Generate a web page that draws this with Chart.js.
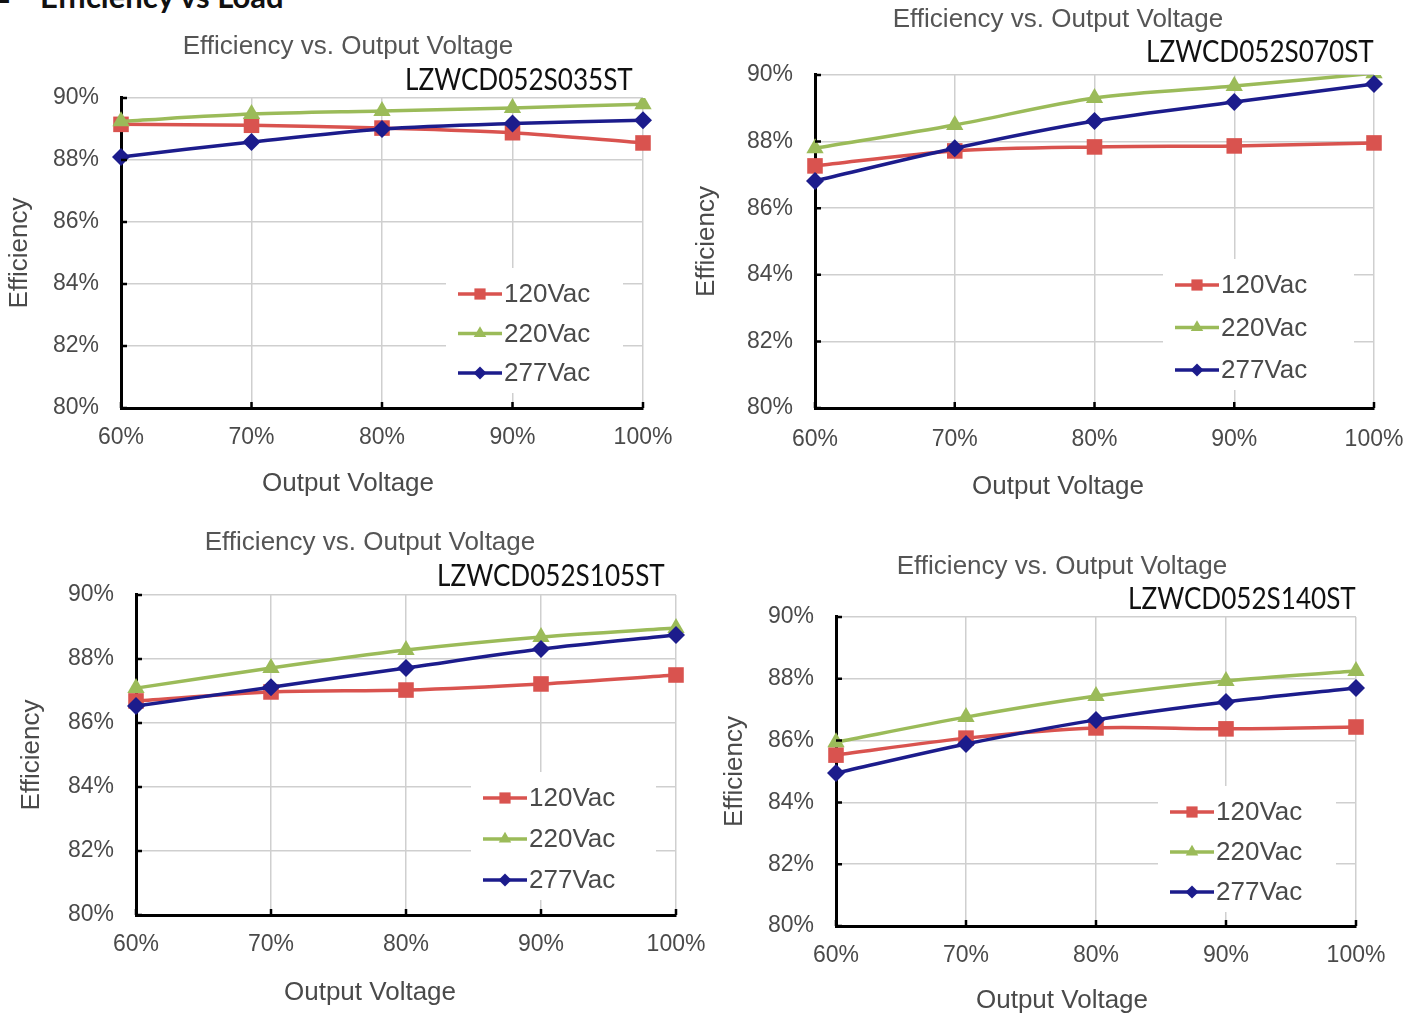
<!DOCTYPE html>
<html>
<head>
<meta charset="utf-8">
<script src="https://cdn.jsdelivr.net/npm/chart.js@4.4.1/dist/chart.umd.min.js"></script>
<style>
  html, body { margin: 0; padding: 0; background: #fff; }
  body { position: relative; width: 1424px; height: 1015px; overflow: hidden; }
  .panel { position: absolute; }
  .model {
    position: absolute; font-family: Lato, "Open Sans", sans-serif; font-size: 30px;
    color: #111; white-space: nowrap; transform: scaleX(0.87); transform-origin: right center;
    line-height: 30px;
  }
  .head {
    position: absolute; left: 0; top: -19px; font-family: Lato, "Liberation Sans", sans-serif;
    font-weight: bold; font-size: 31px; line-height: 30px; color: #111; white-space: nowrap;
  }
  .head .sq { position: absolute; left: -2px; top: 0; font-size: 20px; }
  .head .tx { position: absolute; left: 40px; top: 0; }
</style>
</head>
<body>
<div class="head"><span class="sq">■</span><span class="tx">Efficiency vs Load</span></div>

<script>
// values (efficiency in %)
const xLabels = ['60%', '70%', '80%', '90%', '100%'];
const seriesNames = ['120Vac', '220Vac', '277Vac'];
const models = ['LZWCD052S035ST', 'LZWCD052S070ST', 'LZWCD052S105ST', 'LZWCD052S140ST'];

const eff035_120 = [89.15, 89.12, 89.03, 88.88, 88.55];
const eff035_220 = [89.25, 89.48, 89.58, 89.68, 89.80];
const eff035_277 = [88.10, 88.58, 89.00, 89.18, 89.28];

const eff070_120 = [87.27, 87.72, 87.84, 87.87, 87.96];
const eff070_220 = [87.80, 88.50, 89.31, 89.67, 90.05];
const eff070_277 = [86.82, 87.80, 88.62, 89.19, 89.73];

const eff105_120 = [86.69, 86.97, 87.03, 87.22, 87.50];
const eff105_220 = [87.09, 87.72, 88.28, 88.69, 88.97];
const eff105_277 = [86.53, 87.12, 87.72, 88.31, 88.75];

const eff140_120 = [85.53, 86.08, 86.41, 86.38, 86.44];
const eff140_220 = [85.95, 86.76, 87.44, 87.93, 88.25];
const eff140_277 = [84.95, 85.89, 86.67, 87.25, 87.70];

const panelData = [
  [eff035_120, eff035_220, eff035_277],
  [eff070_120, eff070_220, eff070_277],
  [eff105_120, eff105_220, eff105_277],
  [eff140_120, eff140_220, eff140_277]
];

// look
const colors = ['#d9534f', '#9bbb59', '#1c1c8c'];
const pointStyles = ['rect', 'triangle', 'rectRot'];
const pointRadius = [11, 10, 9];
const TXT = '#4a4a4a';
const FONT = '"Liberation Sans", Arial, sans-serif';

// page placement of each panel: canvas box + wanted plot area, all page px
const layouts = [
  { L: 0,   T: 20,  W: 696, H: 490, area: [121, 643, 98, 408],  titleY: 47,  xTitleY: 484, yTitleX: 20,  tickY: 438,
    model: { right: 633, y: 78 },  legend: { dx: 185, first: 114, gap: 39.5 } },
  { L: 690, T: 0,   W: 736, H: 513, area: [815, 1374, 75, 408], titleY: 20,  xTitleY: 487, yTitleX: 707, tickY: 440,
    model: { right: 1374, y: 50 }, legend: { dx: 199, first: 123, gap: 42.5 } },
  { L: 10,  T: 515, W: 720, H: 500, area: [136, 676, 595, 915], titleY: 543, xTitleY: 993, yTitleX: 32,  tickY: 945,
    model: { right: 665, y: 574 }, legend: { dx: 193, first: 117, gap: 41 } },
  { L: 710, T: 540, W: 704, H: 477, area: [836, 1356, 617, 926], titleY: 567, xTitleY: 1001, yTitleX: 735, tickY: 956,
    model: { right: 1356, y: 597 }, legend: { dx: 186, first: 114, gap: 40 } }
];

// legend box drawn inside the plot, lower right
const boxLegend = {
  id: 'boxLegend',
  afterDatasetsDraw(chart, args, opts) {
    const { ctx, chartArea: a } = chart;
    const x0 = a.right - opts.dx;
    const ds = chart.data.datasets;
    const rows = ds.map((d, i) => a.bottom - opts.first + i * opts.gap);
    ctx.save();
    ctx.fillStyle = '#fff';
    ctx.fillRect(x0 - 12, rows[0] - 26, a.right - 20 - (x0 - 12), rows[rows.length - 1] + 20 - (rows[0] - 26));
    ds.forEach((d, i) => {
      const y = rows[i];
      ctx.strokeStyle = d.borderColor;
      ctx.lineWidth = 3.5;
      ctx.beginPath();
      ctx.moveTo(x0, y);
      ctx.lineTo(x0 + 44, y);
      ctx.stroke();
      ctx.fillStyle = d.pointBackgroundColor;
      ctx.strokeStyle = d.pointBorderColor;
      Chart.helpers.drawPoint(ctx, { pointStyle: d.pointStyle, radius: d.pointRadius * 0.72, rotation: 0, borderWidth: 0 }, x0 + 22, y);
      ctx.fillStyle = TXT;
      ctx.font = '26px ' + FONT;
      ctx.textBaseline = 'middle';
      ctx.textAlign = 'left';
      ctx.fillText(d.label, x0 + 46, y + 1);
    });
    ctx.restore();
  }
};

// small black inner tick marks on the two black axes
const innerTicks = {
  id: 'innerTicks',
  afterDatasetsDraw(chart) {
    const { ctx, chartArea: a, scales } = chart;
    ctx.save();
    ctx.strokeStyle = '#000';
    ctx.lineWidth = 2.5;
    ctx.beginPath();
    scales.y.ticks.forEach((t, i) => {
      const y = scales.y.getPixelForTick(i);
      ctx.moveTo(a.left, y); ctx.lineTo(a.left + 6, y);
    });
    scales.x.ticks.forEach((t, i) => {
      const x = scales.x.getPixelForTick(i);
      ctx.moveTo(x, a.bottom); ctx.lineTo(x, a.bottom - 6);
    });
    ctx.stroke();
    ctx.restore();
  }
};

function buildPanel(idx) {
  const lay = layouts[idx];
  const [al, ar, at, ab] = lay.area;

  const div = document.createElement('div');
  div.className = 'panel';
  div.style.left = lay.L + 'px';
  div.style.top = lay.T + 'px';
  const cv = document.createElement('canvas');
  cv.width = lay.W; cv.height = lay.H;
  cv.style.width = lay.W + 'px'; cv.style.height = lay.H + 'px';
  div.appendChild(cv);
  document.body.appendChild(div);

  const m = document.createElement('div');
  m.className = 'model';
  m.textContent = models[idx];
  m.style.right = (1424 - lay.model.right) + 'px';
  m.style.top = (lay.model.y - 15) + 'px';
  document.body.appendChild(m);

  // paddings so that the plot area lands where the original one is
  const titleLH = 26 * 1.2, tickLH = 23 * 1.2, yTitleLH = 26 * 1.2;
  const titleTop = lay.titleY - lay.T - titleLH / 2;
  const titleBottom = at - lay.T - titleTop - titleLH;
  const xH = 50;
  const tickPad = lay.tickY - ab - tickLH / 2;
  const subTop = lay.xTitleY - ab - xH - titleLH / 2;
  const subBottom = lay.T + lay.H - (ab + xH + subTop + titleLH);
  const yW = al - lay.L;
  const rightW = lay.L + lay.W - ar;
  const yTitlePad = Math.max(0, lay.yTitleX - lay.L - yTitleLH / 2);

  const datasets = seriesNames.map((name, i) => ({
    label: name,
    data: panelData[idx][i],
    borderColor: colors[i],
    backgroundColor: colors[i],
    pointBackgroundColor: colors[i],
    pointBorderColor: colors[i],
    pointStyle: pointStyles[i],
    pointRadius: pointRadius[i],
    pointBorderWidth: 0,
    borderWidth: 3.5,
    tension: 0.3,
    order: 2 - i,
    clip: (idx === 1 && i === 1) ? { left: 20, right: 20, top: 0, bottom: 20 } : undefined
  }));

  new Chart(cv, {
    type: 'line',
    data: { labels: xLabels, datasets },
    options: {
      responsive: false,
      animation: false,
      devicePixelRatio: 1,
      layout: { padding: 0 },
      scales: {
        x: {
          grid: { color: '#cfcfcf', lineWidth: 1.5, drawTicks: false },
          border: { color: '#000', width: 3 },
          ticks: { color: TXT, font: { family: FONT, size: 23 }, padding: tickPad, maxRotation: 0 },
          afterFit: s => { s.height = xH; }
        },
        y: {
          min: 80, max: 90,
          grid: { color: '#cfcfcf', lineWidth: 1.5, drawTicks: false },
          border: { color: '#000', width: 3 },
          ticks: { stepSize: 2, color: TXT, font: { family: FONT, size: 23 }, padding: 22, callback: v => v + '%' },
          title: { display: true, text: 'Efficiency', color: TXT, font: { family: FONT, size: 26 }, padding: { top: yTitlePad, bottom: 0 } },
          afterFit: s => { s.width = yW; }
        },
        yRight: {
          position: 'right',
          grid: { display: false },
          border: { display: false },
          ticks: { display: false },
          afterFit: s => { s.width = rightW; }
        }
      },
      plugins: {
        legend: { display: false },
        tooltip: { enabled: false },
        title: {
          display: true, text: 'Efficiency vs. Output Voltage', color: '#555',
          font: { family: FONT, size: 26, weight: 'normal' },
          padding: { top: titleTop, bottom: titleBottom }
        },
        subtitle: {
          display: true, position: 'bottom', text: 'Output Voltage', color: TXT,
          font: { family: FONT, size: 26, weight: 'normal' },
          padding: { top: subTop, bottom: Math.max(0, subBottom) }
        },
        boxLegend: lay.legend
      }
    },
    plugins: [boxLegend, innerTicks]
  });
}

layouts.forEach((l, i) => buildPanel(i));
</script>
</body>
</html>
